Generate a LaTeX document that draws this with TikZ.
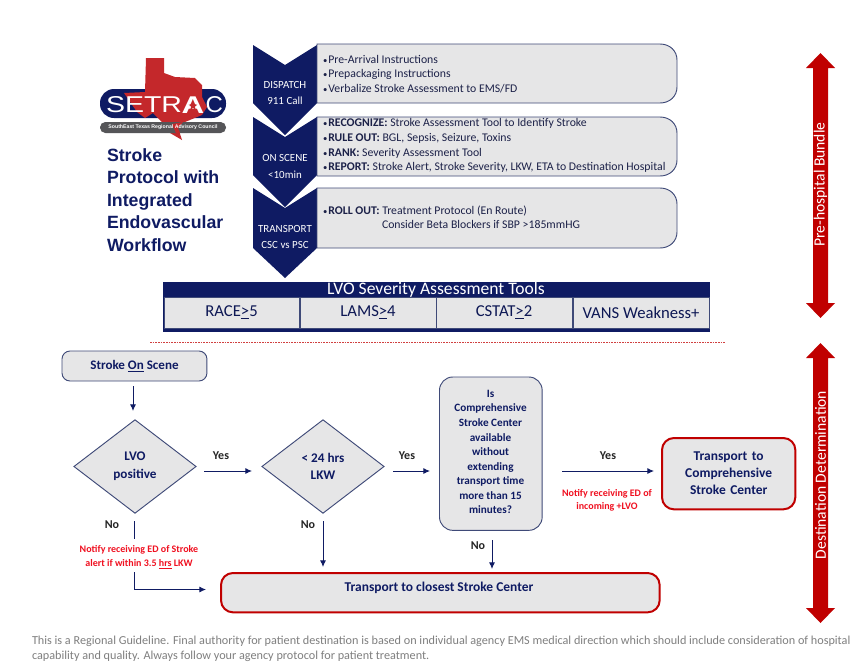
\documentclass[tikz,border=0pt]{standalone}
\usepackage{fontspec}
\usepackage{graphicx}
\setmainfont{Carlito}
\newfontfamily\headfont{Liberation Sans}
\usetikzlibrary{shapes.geometric,arrows.meta,calc}
\definecolor{navy}{HTML}{0F1B63}
\definecolor{boxgray}{HTML}{E6E6E7}
\definecolor{edgeblue}{HTML}{3F4A78}
\definecolor{darkred}{HTML}{C00000}
\definecolor{notered}{HTML}{F01020}
\definecolor{footgray}{HTML}{7F7F7F}
\definecolor{logored}{HTML}{C4282B}
\definecolor{logogray}{HTML}{555558}
\definecolor{listink}{HTML}{1C2148}
\newcommand{\bul}{\makebox[4.0pt][l]{\fontsize{6.5}{6}\selectfont•}}
\tikzset{
  x=0.75pt,y=-0.75pt,
  base/.style={inner sep=0pt,outer sep=0pt},
  listbox/.style={draw=edgeblue,fill=boxgray,line width=0.7pt},
  listtext/.style={base,anchor=west,font=\fontsize{8.82}{10}\selectfont,text=listink},
  chevtext/.style={base,font=\fontsize{8.2}{9}\selectfont,text=white,align=center},
  flowbox/.style={base,draw=edgeblue,fill=boxgray,line width=0.7pt,rounded corners=6pt,align=center,text=navy,font=\fontsize{9.8}{10}\selectfont\bfseries},
  redbox/.style={base,draw=darkred,fill=boxgray,line width=1.5pt,rounded corners=9pt,align=center,text=navy,font=\fontsize{10.1}{12.75}\selectfont\bfseries},
  decision/.style={base,diamond,aspect=1.3,draw=edgeblue,fill=boxgray,line width=0.7pt,align=center,text=navy,font=\fontsize{9.9}{13.2}\selectfont\bfseries},
  flow/.style={draw=navy,line width=0.7pt,-{Latex[length=5pt,width=4.5pt]}},
  flowplain/.style={draw=navy,line width=0.7pt},
  answer/.style={base,font=\fontsize{9}{10}\selectfont\bfseries,text=black!85},
  notice/.style={base,align=center,font=\fontsize{7.5}{10}\selectfont\bfseries,text=notered},
  cell/.style={base,draw=edgeblue,fill=boxgray,line width=0.6pt,text=navy!85!black,font=\fontsize{12.5}{14}\selectfont},
  sidelabel/.style={base,rotate=90,text=white,font=\fontsize{11.7}{12}\selectfont},
  bigarrow/.style={fill=darkred,draw=none}
}
\begin{document}
\begin{tikzpicture}
\useasboundingbox (0,0) rectangle (860,668);
\fill[white] (0,0) rectangle (860,668);

% logo
\fill[navy,rounded corners=10.5pt] (100,89) rectangle (226,118);
\fill[logored] (146,58) -- (164,58) -- (164,73) -- (175,77) -- (195,78) -- (202,85) -- (202,97) -- (207,107) -- (202,115) -- (185,122) -- (178,128) -- (182,140) -- (170,133) -- (163,123) -- (153,113) -- (145,118) -- (137,112) -- (124,93) -- (145,92) -- cycle;
\fill[logogray,rounded corners=4pt] (100,122) rectangle (226,133);
\fill[logored] (172,124) -- (183,122) -- (178,128) -- (180,133) -- (176,133) -- cycle;
\node[base,anchor=west,text=white] (logoa) at (106,105) {\headfont\resizebox{57pt}{12pt}{SETR}};
\node[base,text=white] (logob) at (193,105) {\headfont\bfseries\resizebox{17pt}{12.5pt}{A}};
\node[base,star,star points=5,star point ratio=2.4,fill=logored,minimum size=7pt] (logostar) at (193,106) {};
\node[base,anchor=east,text=white] (logoc) at (223,105) {\headfont\resizebox{13pt}{12pt}{C}};
\node[base,text=white] (logosub) at (163,127.5) {\headfont\fontsize{3.9}{4}\selectfont\bfseries SouthEast Texas Regional Advisory Council};

% title
\node[base,anchor=north west,align=left,text=navy,font=\headfont\fontsize{13.3}{16.9}\selectfont\bfseries] (title) at (107,148.5)
  {Stroke\\Protocol with\\Integrated\\Endovascular\\Workflow};

% chevrons
\fill[navy] (253,45) -- (285,65) -- (317,45) -- (317,103) -- (285,135) -- (253,103) -- cycle;
\fill[navy] (253,117) -- (285,137) -- (317,117) -- (317,175) -- (285,207) -- (253,175) -- cycle;
\fill[navy] (253,188) -- (285,208) -- (317,188) -- (317,248) -- (285,278) -- (253,248) -- cycle;

% list boxes
\path[listbox] (317,44) -- (660,44) .. controls (670,44) and (677,51) .. (677,60) -- (677,87) .. controls (677,96) and (670,103) .. (660,103) -- (317,103) -- cycle;
\path[listbox] (317,117) -- (660,117) .. controls (670,117) and (677,124) .. (677,133) -- (677,160) .. controls (677,169) and (670,176) .. (660,176) -- (317,176) -- cycle;
\path[listbox] (317,188) -- (660,188) .. controls (670,188) and (677,195) .. (677,204) -- (677,232) .. controls (677,241) and (670,248) .. (660,248) -- (317,248) -- cycle;

\node[chevtext] (c1a) at (285,85) {DISPATCH};
\node[chevtext] (c1b) at (285,101) {911 Call};
\node[chevtext] (c2a) at (285,158) {ON SCENE};
\node[chevtext] (c2b) at (285,175) {<10min};
\node[chevtext] (c3a) at (285,228.5) {TRANSPORT};
\node[chevtext] (c3b) at (285,245) {CSC vs PSC};

\node[listtext] (l1a) at (323,59) {\bul Pre-Arrival Instructions};
\node[listtext] (l1b) at (323,74) {\bul Prepackaging Instructions};
\node[listtext] (l1c) at (323,89) {\bul Verbalize Stroke Assessment to EMS/FD};
\node[listtext] (l2a) at (323,123) {\bul\textbf{RECOGNIZE:} Stroke Assessment Tool to Identify Stroke};
\node[listtext] (l2b) at (323,138) {\bul\textbf{RULE OUT:} BGL, Sepsis, Seizure, Toxins};
\node[listtext] (l2c) at (323,153) {\bul\textbf{RANK:} Severity Assessment Tool};
\node[listtext] (l2d) at (323,167) {\bul\textbf{REPORT:} Stroke Alert, Stroke Severity, LKW, ETA to Destination Hospital};
\node[listtext] (l3a) at (323,211) {\bul\textbf{ROLL OUT:} Treatment Protocol (En Route)};
\node[listtext] (l3b) at (382,224) {Consider Beta Blockers if SBP >185mmHG};

% LVO table
\fill[navy] (163,282) rectangle (710,332);
\node[base,text=white,font=\fontsize{13.2}{14}\selectfont] (lvotitle) at (436,290) {LVO Severity Assessment Tools};
\node[cell,minimum width=101.3pt,minimum height=23.2pt,anchor=north west] (race) at (164,297) {RACE\underline{>}5};
\node[cell,minimum width=102pt,minimum height=23.2pt,anchor=north west] (lams) at (300,297) {LAMS\underline{>}4};
\node[cell,minimum width=102pt,minimum height=23.2pt,anchor=north west] (cstat) at (436,297) {CSTAT\underline{>}2};
\node[cell,minimum width=102pt,minimum height=23.2pt,anchor=north west] (vans) at (573,297) {VANS Weakness+};

\draw[darkred!75!white,line width=0.6pt,dash pattern=on 1.2pt off 0.8pt] (150,342) -- (725,342);

% flow nodes
\node[flowbox,anchor=north west,minimum width=108.7pt,minimum height=22.5pt] (scene) at (62,351) {Stroke \underline{On} Scene};
\node[decision,minimum width=91.5pt,minimum height=70pt] (lvo) at (135,466.5) {LVO\\positive};
\node[decision,minimum width=91.5pt,minimum height=70pt] (lkw) at (323,466.5) {< 24 hrs\\LKW};
\node[flowbox,rounded corners=10pt,anchor=north west,minimum width=77pt,minimum height=115pt] (csc) at (439.5,377) {};
\node[base,align=center,text=navy,font=\fontsize{8.4}{10.9}\selectfont\bfseries] (csctext) at (490.5,452)
  {Is\\Comprehensive\\Stroke Center\\available\\without\\extending\\transport time\\more than 15\\minutes?};
\node[redbox,anchor=north west,minimum width=100pt,minimum height=53.5pt,text width=100pt] (tcsc) at (662,438) {Transport to\\Comprehensive\\Stroke Center};
\node[redbox,anchor=north west,minimum width=329pt,minimum height=29.5pt] (tpsc) at (221,573) {};
\node[base,text=navy,font=\fontsize{10.1}{10}\selectfont\bfseries] (tpsctext) at (439,588) {Transport to closest Stroke Center};

% free connector ends
\coordinate (a1) at (133,386); \coordinate (a2) at (133,411);
\coordinate (b1) at (204,471); \coordinate (b2) at (252,471);
\coordinate (d1) at (393,471); \coordinate (d2) at (430,471);
\coordinate (e1) at (562,471); \coordinate (e2) at (654,471);
\coordinate (f1) at (323,521); \coordinate (f2) at (323,567);
\coordinate (g1) at (492,540); \coordinate (g2) at (492,569);
\coordinate (h1) at (134.5,521); \coordinate (h2) at (134.5,539);
\coordinate (i1) at (134.5,572); \coordinate (i2) at (134.5,589.5); \coordinate (i3) at (206,589.5);

\draw[flow] (a1) -- (a2);
\draw[flow] (b1) -- (b2);
\draw[flow] (d1) -- (d2);
\draw[flow] (e1) -- (e2);
\draw[flow] (f1) -- (f2);
\draw[flow] (g1) -- (g2);
\draw[flowplain] (h1) -- (h2);
\draw[flow] (i1) -- (i2) -- (i3);

\node[answer] (y1) at (221,456) {Yes};
\node[answer] (y2) at (407,456) {Yes};
\node[answer] (y3) at (608,456) {Yes};
\node[answer] (n1) at (112,525) {No};
\node[answer] (n2) at (308,525) {No};
\node[answer] (n3) at (478,546) {No};
\node[notice] (r1) at (139,557.5) {Notify receiving ED of Stroke\\alert if within 3.5 \underline{hrs} LKW};
\node[notice] (r2) at (607,500) {Notify receiving ED of\\incoming +LVO};

% side arrows
\path[bigarrow] (820.5,53) -- (835,68) -- (828,68) -- (828,303) -- (835,303) -- (820.5,318) -- (806,303) -- (813,303) -- (813,68) -- (806,68) -- cycle;
\path[bigarrow] (820.5,343) -- (835,358) -- (828,358) -- (828,608) -- (835,608) -- (820.5,623) -- (806,608) -- (813,608) -- (813,358) -- (806,358) -- cycle;
\node[sidelabel] (s1) at (820.5,184.5) {Pre-hospital Bundle};
\node[sidelabel] (s2) at (820.5,475) {Destination Determination};

% footer
\node[base,anchor=north west,align=left,text=footgray,font=\fontsize{9.15}{11.2}\selectfont] (foot) at (32,636)
  {This is a Regional Guideline. Final authority for patient destination is based on individual agency EMS medical direction which should include consideration of hospital\\capability and quality. Always follow your agency protocol for patient treatment.};
\end{tikzpicture}
\end{document}
